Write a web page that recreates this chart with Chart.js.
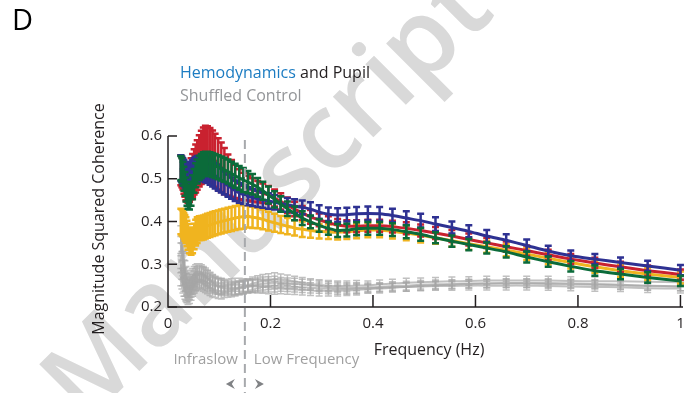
<!DOCTYPE html>
<html>
<head>
<meta charset="utf-8">
<script src="https://cdn.jsdelivr.net/npm/chart.js@4.4.1/dist/chart.umd.min.js"></script>
<style>
  html, body { margin: 0; padding: 0; background: #fff; }
</style>
</head>
<body>
<canvas id="coherence-chart" width="694" height="393"></canvas>
<script>
// Frequencies (Hz) of the coherence estimates
const frequencies = [
  0.025, 0.027, 0.029, 0.031, 0.033, 0.035, 0.037, 0.039, 0.042, 0.045,
  0.048, 0.051, 0.054, 0.057, 0.061, 0.065, 0.069, 0.073, 0.077, 0.082,
  0.087, 0.092, 0.098, 0.104, 0.110, 0.117, 0.124, 0.131, 0.139, 0.147,
  0.156, 0.165, 0.175, 0.185, 0.196, 0.208, 0.220, 0.233, 0.247, 0.262,
  0.278, 0.295, 0.313, 0.331, 0.349, 0.368, 0.390, 0.413, 0.438, 0.465,
  0.493, 0.522, 0.554, 0.587, 0.622, 0.660, 0.700, 0.742, 0.786, 0.833,
  0.883, 0.936, 1.000
];

// Hemodynamics and pupil (mean)
const greenCoh = [
  0.525, 0.520, 0.512, 0.500, 0.488, 0.475, 0.465, 0.458, 0.456, 0.465,
  0.480, 0.495, 0.508, 0.517, 0.525, 0.530, 0.534, 0.535, 0.535, 0.534,
  0.532, 0.530, 0.527, 0.524, 0.521, 0.517, 0.512, 0.507, 0.502, 0.497,
  0.492, 0.487, 0.480, 0.472, 0.462, 0.452, 0.441, 0.430, 0.419, 0.408,
  0.399, 0.391, 0.384, 0.379, 0.380, 0.383, 0.384, 0.384, 0.381, 0.376,
  0.370, 0.362, 0.354, 0.346, 0.338, 0.329, 0.317, 0.306, 0.295, 0.285,
  0.277, 0.269, 0.261
];
const blueCoh = [
  0.525, 0.522, 0.518, 0.514, 0.510, 0.507, 0.505, 0.505, 0.507, 0.510,
  0.514, 0.518, 0.521, 0.523, 0.524, 0.525, 0.524, 0.522, 0.520, 0.516,
  0.512, 0.507, 0.502, 0.496, 0.490, 0.484, 0.478, 0.472, 0.467, 0.463,
  0.459, 0.456, 0.453, 0.450, 0.448, 0.445, 0.442, 0.439, 0.436, 0.433,
  0.429, 0.422, 0.417, 0.415, 0.416, 0.418, 0.419, 0.418, 0.414, 0.408,
  0.402, 0.394, 0.386, 0.377, 0.366, 0.356, 0.344, 0.331, 0.320, 0.312,
  0.304, 0.296, 0.286
];
const redCoh = [
  0.520, 0.515, 0.510, 0.500, 0.495, 0.490, 0.488, 0.488, 0.492, 0.500,
  0.508, 0.516, 0.524, 0.532, 0.542, 0.550, 0.556, 0.559, 0.558, 0.555,
  0.550, 0.543, 0.535, 0.527, 0.518, 0.509, 0.501, 0.494, 0.487, 0.482,
  0.478, 0.474, 0.470, 0.466, 0.462, 0.455, 0.447, 0.438, 0.429, 0.420,
  0.411, 0.404, 0.397, 0.392, 0.389, 0.389, 0.390, 0.390, 0.388, 0.384,
  0.379, 0.373, 0.366, 0.358, 0.350, 0.341, 0.332, 0.322, 0.312, 0.303,
  0.294, 0.285, 0.276
];
const yellowCoh = [
  0.400, 0.398, 0.395, 0.390, 0.385, 0.380, 0.372, 0.364, 0.356, 0.352,
  0.356, 0.365, 0.374, 0.380, 0.384, 0.385, 0.386, 0.388, 0.390, 0.392,
  0.394, 0.396, 0.398, 0.400, 0.402, 0.404, 0.406, 0.408, 0.410, 0.411,
  0.412, 0.410, 0.408, 0.405, 0.401, 0.397, 0.393, 0.389, 0.385, 0.382,
  0.379, 0.377, 0.376, 0.375, 0.376, 0.378, 0.380, 0.380, 0.377, 0.373,
  0.368, 0.362, 0.355, 0.348, 0.341, 0.333, 0.324, 0.314, 0.304, 0.294,
  0.285, 0.277, 0.269
];

// Error bars (half-length)
const greenErr = [
  0.028, 0.028, 0.028, 0.028, 0.028, 0.028, 0.028, 0.028, 0.028, 0.028,
  0.028, 0.028, 0.028, 0.028, 0.028, 0.028, 0.028, 0.028, 0.028, 0.028,
  0.028, 0.028, 0.028, 0.028, 0.028, 0.028, 0.028, 0.028, 0.028, 0.028,
  0.026, 0.024, 0.022, 0.021, 0.020, 0.019, 0.018, 0.017, 0.016, 0.016,
  0.015, 0.015, 0.015, 0.015, 0.015, 0.015, 0.015, 0.015, 0.015, 0.015,
  0.015, 0.013, 0.013, 0.013, 0.013, 0.013, 0.013, 0.012, 0.012, 0.012,
  0.012, 0.012, 0.012
];
const blueErr = [
  0.030, 0.030, 0.030, 0.030, 0.030, 0.030, 0.030, 0.030, 0.030, 0.030,
  0.030, 0.030, 0.030, 0.030, 0.030, 0.030, 0.030, 0.030, 0.030, 0.030,
  0.030, 0.030, 0.030, 0.028, 0.027, 0.026, 0.025, 0.024, 0.023, 0.022,
  0.021, 0.020, 0.019, 0.018, 0.018, 0.017, 0.017, 0.016, 0.016, 0.016,
  0.016, 0.016, 0.016, 0.016, 0.016, 0.016, 0.016, 0.016, 0.016, 0.016,
  0.016, 0.016, 0.014, 0.014, 0.014, 0.014, 0.014, 0.012, 0.012, 0.012,
  0.012, 0.012, 0.012
];
const redErr = [
  0.035, 0.035, 0.035, 0.035, 0.037, 0.040, 0.042, 0.044, 0.046, 0.048,
  0.050, 0.053, 0.056, 0.058, 0.060, 0.062, 0.064, 0.065, 0.065, 0.064,
  0.063, 0.062, 0.060, 0.058, 0.054, 0.048, 0.043, 0.039, 0.035, 0.032,
  0.029, 0.027, 0.025, 0.023, 0.021, 0.020, 0.019, 0.018, 0.017, 0.016,
  0.016, 0.015, 0.015, 0.014, 0.014, 0.014, 0.014, 0.014, 0.014, 0.014,
  0.014, 0.014, 0.014, 0.014, 0.012, 0.012, 0.012, 0.012, 0.012, 0.012,
  0.012, 0.012, 0.012
];
const yellowErr = [
  0.030, 0.030, 0.030, 0.030, 0.030, 0.030, 0.030, 0.030, 0.030, 0.030,
  0.030, 0.030, 0.030, 0.030, 0.028, 0.028, 0.028, 0.028, 0.028, 0.028,
  0.028, 0.028, 0.028, 0.028, 0.028, 0.028, 0.028, 0.028, 0.028, 0.028,
  0.026, 0.025, 0.024, 0.023, 0.022, 0.021, 0.020, 0.019, 0.018, 0.018,
  0.017, 0.017, 0.017, 0.017, 0.017, 0.017, 0.017, 0.017, 0.017, 0.017,
  0.017, 0.014, 0.014, 0.014, 0.014, 0.014, 0.014, 0.014, 0.014, 0.014,
  0.014, 0.014, 0.014
];

// Shuffled controls
const shuffled1 = [
  0.345, 0.330, 0.310, 0.290, 0.272, 0.258, 0.248, 0.243, 0.243, 0.250,
  0.258, 0.266, 0.272, 0.276, 0.278, 0.277, 0.274, 0.270, 0.266, 0.261,
  0.256, 0.252, 0.248, 0.245, 0.243, 0.242, 0.242, 0.243, 0.245, 0.248,
  0.251, 0.255, 0.258, 0.261, 0.263, 0.265, 0.265, 0.263, 0.260, 0.257,
  0.254, 0.252, 0.250, 0.249, 0.249, 0.250, 0.251, 0.253, 0.255, 0.257,
  0.258, 0.259, 0.260, 0.261, 0.262, 0.262, 0.262, 0.262, 0.261, 0.260,
  0.260, 0.259, 0.258
];
const shuffled2 = [
  0.300, 0.285, 0.270, 0.257, 0.245, 0.236, 0.230, 0.226, 0.228, 0.236,
  0.243, 0.250, 0.256, 0.260, 0.263, 0.263, 0.262, 0.260, 0.257, 0.254,
  0.251, 0.249, 0.248, 0.248, 0.249, 0.250, 0.251, 0.252, 0.252, 0.251,
  0.250, 0.249, 0.248, 0.247, 0.246, 0.245, 0.243, 0.242, 0.241, 0.240,
  0.239, 0.238, 0.238, 0.238, 0.239, 0.240, 0.242, 0.243, 0.245, 0.247,
  0.249, 0.251, 0.252, 0.254, 0.255, 0.256, 0.256, 0.256, 0.255, 0.254,
  0.252, 0.250, 0.248
];
const shuffled3 = [
  0.270, 0.262, 0.253, 0.245, 0.238, 0.233, 0.232, 0.234, 0.238, 0.243,
  0.248, 0.253, 0.256, 0.258, 0.259, 0.258, 0.255, 0.252, 0.249, 0.245,
  0.242, 0.240, 0.238, 0.237, 0.237, 0.238, 0.239, 0.241, 0.243, 0.245,
  0.247, 0.249, 0.250, 0.250, 0.250, 0.250, 0.249, 0.248, 0.247, 0.246,
  0.245, 0.244, 0.243, 0.242, 0.242, 0.243, 0.244, 0.245, 0.246, 0.247,
  0.248, 0.249, 0.249, 0.250, 0.250, 0.250, 0.250, 0.249, 0.248, 0.247,
  0.246, 0.244, 0.243
];
const shuffled4 = [
  0.370, 0.350, 0.328, 0.306, 0.288, 0.275, 0.266, 0.262, 0.262, 0.266,
  0.272, 0.277, 0.281, 0.283, 0.283, 0.281, 0.277, 0.273, 0.268, 0.263,
  0.258, 0.254, 0.251, 0.249, 0.247, 0.246, 0.245, 0.245, 0.246, 0.247,
  0.249, 0.251, 0.253, 0.255, 0.256, 0.257, 0.257, 0.256, 0.255, 0.253,
  0.251, 0.249, 0.247, 0.246, 0.245, 0.245, 0.246, 0.247, 0.249, 0.250,
  0.252, 0.253, 0.254, 0.255, 0.255, 0.255, 0.255, 0.254, 0.253, 0.252,
  0.251, 0.249, 0.248
];
const shuffledErr = [
  0.020, 0.020, 0.020, 0.020, 0.020, 0.020, 0.020, 0.020, 0.020, 0.020,
  0.018, 0.018, 0.018, 0.018, 0.018, 0.018, 0.018, 0.018, 0.018, 0.018,
  0.018, 0.018, 0.018, 0.018, 0.015, 0.015, 0.015, 0.015, 0.015, 0.015,
  0.015, 0.015, 0.015, 0.015, 0.015, 0.015, 0.012, 0.012, 0.012, 0.012,
  0.012, 0.012, 0.012, 0.012, 0.012, 0.012, 0.010, 0.010, 0.010, 0.010,
  0.010, 0.010, 0.010, 0.010, 0.010, 0.010, 0.010, 0.010, 0.010, 0.010,
  0.010, 0.010, 0.010
];

const xTicks = [0, 0.2, 0.4, 0.6, 0.8, 1];
const yTicks = [0.2, 0.3, 0.4, 0.5, 0.6];
const bandEdge = 0.15; // infraslow / low frequency boundary

const FONT = '"Open Sans", "Noto Sans", sans-serif';
const INK = "#231f20";

function series(values, errors, color, width) {
  return {
    data: values.map((v, i) => ({ x: frequencies[i], y: v })),
    errors,
    borderColor: color,
    borderWidth: width,
    pointRadius: 0,
    tension: 0.2,
    fill: false,
    clip: false,
  };
}

const gray = "rgba(165, 165, 165, 0.7)";

// index 0 is drawn on top
const datasets = [
  series(greenCoh, greenErr, "#0b6b3a", 3),
  series(blueCoh, blueErr, "#2e3192", 3),
  series(redCoh, redErr, "#c9212f", 3),
  series(yellowCoh, yellowErr, "#f0b41f", 3),
  series(shuffled1, shuffledErr, gray, 2),
  series(shuffled2, shuffledErr, gray, 2),
  series(shuffled3, shuffledErr, gray, 2),
  series(shuffled4, shuffledErr, gray, 2),
];

// Draw error bars with caps after each dataset's line
const errorBars = {
  id: "errorBars",
  afterDatasetDraw(chart, args) {
    const ds = chart.data.datasets[args.index];
    if (!ds.errors) return;
    const xs = chart.scales.x;
    const ys = chart.scales.y;
    const c = chart.ctx;
    const cap = 3.5;
    c.save();
    c.strokeStyle = ds.borderColor;
    c.lineWidth = ds.borderWidth - 0.5;
    c.beginPath();
    ds.data.forEach((p, i) => {
      const px = xs.getPixelForValue(p.x);
      const top = ys.getPixelForValue(p.y + ds.errors[i]);
      const bottom = ys.getPixelForValue(p.y - ds.errors[i]);
      c.moveTo(px, top);
      c.lineTo(px, bottom);
      c.moveTo(px - cap, top);
      c.lineTo(px + cap, top);
      c.moveTo(px - cap, bottom);
      c.lineTo(px + cap, bottom);
    });
    c.stroke();
    c.restore();
  },
};

// Background, watermark, axes, annotations
const decorations = {
  id: "decorations",
  beforeDraw(chart) {
    const c = chart.ctx;
    c.save();
    c.fillStyle = "#ffffff";
    c.fillRect(0, 0, chart.width, chart.height);
    c.translate(270, 198);
    c.rotate((-45 * Math.PI) / 180);
    c.fillStyle = "#d9d9d9";
    c.font = "600 106px " + FONT;
    c.textAlign = "center";
    c.textBaseline = "middle";
    c.fillText("Manuscript", 0, 0);
    c.restore();
  },
  afterDraw(chart) {
    const c = chart.ctx;
    const xs = chart.scales.x;
    const ys = chart.scales.y;
    const area = chart.chartArea;
    c.save();

    // axes
    c.strokeStyle = INK;
    c.lineWidth = 1.5;
    c.beginPath();
    c.moveTo(area.left, ys.getPixelForValue(0.6));
    c.lineTo(area.left, area.bottom);
    c.lineTo(area.right, area.bottom);
    c.stroke();

    // inward ticks
    c.beginPath();
    yTicks.forEach((v) => {
      const py = ys.getPixelForValue(v);
      c.moveTo(area.left, py);
      c.lineTo(area.left + 9, py);
    });
    xTicks.forEach((v) => {
      if (v === 0) return;
      const px = xs.getPixelForValue(v);
      c.moveTo(px, area.bottom);
      c.lineTo(px, area.bottom - 12);
    });
    c.stroke();

    // band boundary
    const bx = xs.getPixelForValue(bandEdge);
    c.strokeStyle = "#a7a9ac";
    c.lineWidth = 2;
    c.setLineDash([9, 5]);
    c.beginPath();
    c.moveTo(bx, 140);
    c.lineTo(bx, 393);
    c.stroke();
    c.setLineDash([]);

    // arrows
    c.fillStyle = "#808285";
    c.beginPath();
    c.moveTo(bx - 19, 384);
    c.lineTo(bx - 10, 379);
    c.lineTo(bx - 13, 384);
    c.lineTo(bx - 10, 389);
    c.closePath();
    c.moveTo(bx + 19, 384);
    c.lineTo(bx + 10, 379);
    c.lineTo(bx + 13, 384);
    c.lineTo(bx + 10, 389);
    c.closePath();
    c.fill();

    // texts
    c.textBaseline = "middle";
    c.fillStyle = "#000";
    c.font = "29px " + FONT;
    c.textAlign = "left";
    c.fillText("D", 12, 22);

    c.font = "16px " + FONT;
    c.fillStyle = "#1c7cc2";
    c.fillText("Hemodynamics", 180, 73);
    const w = c.measureText("Hemodynamics ").width;
    c.fillStyle = INK;
    c.fillText("and Pupil", 180 + w, 73);
    c.fillStyle = "#939598";
    c.fillText("Shuffled Control", 180, 96);

    c.fillStyle = INK;
    c.textAlign = "center";
    c.fillText("Frequency (Hz)", 429, 350);

    c.save();
    c.translate(99, 219);
    c.rotate(-Math.PI / 2);
    c.fillText("Magnitude Squared Coherence", 0, 0);
    c.restore();

    c.font = "15px " + FONT;
    c.fillStyle = "#a0a0a0";
    c.textAlign = "right";
    c.fillText("Infraslow", bx - 7, 360);
    c.textAlign = "left";
    c.fillText("Low Frequency", bx + 9, 360);

    c.restore();
  },
};

const ctx = document.getElementById("coherence-chart").getContext("2d");

new Chart(ctx, {
  type: "line",
  data: { datasets },
  options: {
    responsive: false,
    animation: false,
    devicePixelRatio: 1,
    layout: { padding: { top: 136, right: 11, left: 0, bottom: 0 } },
    plugins: {
      legend: { display: false },
      tooltip: { enabled: false },
    },
    scales: {
      x: {
        type: "linear",
        min: 0,
        max: 1.005,
        grid: { display: false, drawTicks: false },
        border: { display: false },
        ticks: {
          color: INK,
          font: { family: FONT, size: 15 },
          padding: 8,
          maxRotation: 0,
          callback: (v) => String(+v.toFixed(1)),
        },
        afterBuildTicks: (s) => {
          s.ticks = xTicks.map((value) => ({ value }));
        },
        afterFit: (s) => {
          s.height = 86;
        },
      },
      y: {
        min: 0.2,
        max: 0.6,
        grid: { display: false, drawTicks: false },
        border: { display: false },
        ticks: {
          color: INK,
          font: { family: FONT, size: 15 },
          padding: 6,
          callback: (v) => String(+v.toFixed(1)),
        },
        afterBuildTicks: (s) => {
          s.ticks = yTicks.map((value) => ({ value }));
        },
        afterFit: (s) => {
          s.width = 168;
        },
      },
    },
  },
  plugins: [decorations, errorBars],
});
</script>
</body>
</html>
